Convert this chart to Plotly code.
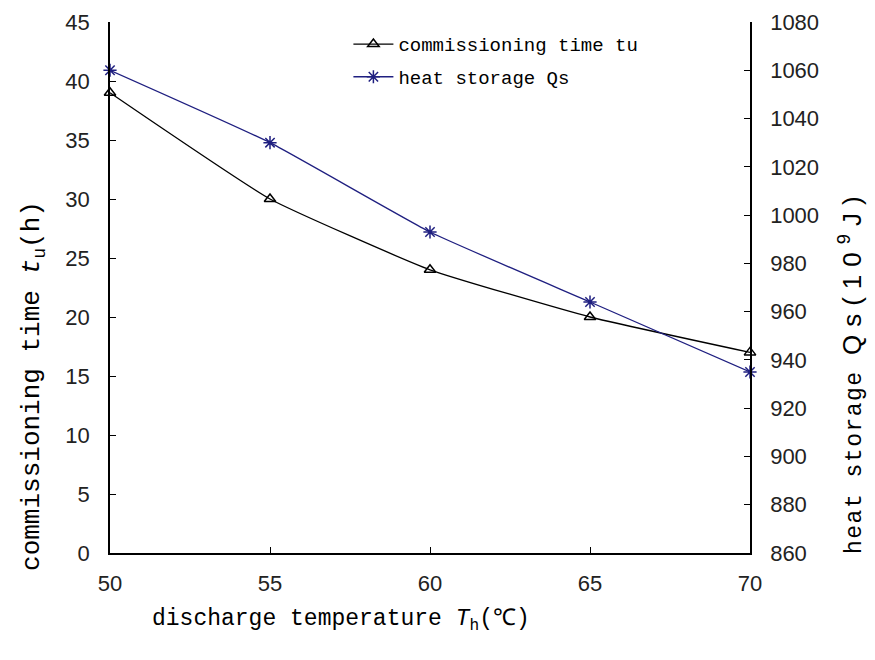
import plotly.graph_objects as go

temps = [50, 55, 60, 65, 70]
commissioning_time = [39, 30, 24, 20, 17]
heat_storage = [1060, 1030, 993, 964, 935]
left_ticks = [0, 5, 10, 15, 20, 25, 30, 35, 40, 45]
right_ticks = [860, 880, 900, 920, 940, 960, 980, 1000, 1020, 1040, 1060, 1080]
x_ticks = [50, 55, 60, 65, 70]

MONO = "Liberation Mono, DejaVu Sans Mono, monospace"
SANS = "Liberation Sans, Arial, sans-serif"
NAVY = "#1f1f80"

fig = go.Figure()
fig.add_trace(go.Scatter(
    x=temps, y=commissioning_time, name="commissioning time tu",
    mode="lines+markers", line=dict(color="black", width=1.3, shape="spline", smoothing=0.4),
    marker=dict(symbol="triangle-up-open", size=10, color="black", line=dict(width=1.5)),
    cliponaxis=False, legendgroup="a"))
fig.add_trace(go.Scatter(
    x=temps, y=heat_storage, name="heat storage Qs", yaxis="y2",
    mode="lines+markers", line=dict(color=NAVY, width=1.3, shape="spline", smoothing=0.4),
    marker=dict(symbol="asterisk-open", size=11, color=NAVY, line=dict(width=1.5, color=NAVY)),
    cliponaxis=False, legendgroup="b"))

axis_common = dict(showline=True, linecolor="black", linewidth=1.5, ticks="inside",
                   ticklen=6, tickwidth=1.2, tickcolor="black", showgrid=False, zeroline=False,
                   automargin=False,
                   tickfont=dict(family=SANS, size=22, color="#222"))

fig.update_layout(
    width=867, height=652,
    margin=dict(l=102, r=125, t=14, b=107, autoexpand=False),
    paper_bgcolor="white", plot_bgcolor="white",
    xaxis=dict(range=[50, 70], tickvals=x_ticks, ticklabelstandoff=10, **axis_common),
    yaxis=dict(range=[0, 45], tickvals=left_ticks, ticklabelstandoff=14, **axis_common),
    yaxis2=dict(range=[860, 1080], tickvals=right_ticks, overlaying="y", side="right",
                ticklabelstandoff=14, **axis_common),
    legend=dict(x=0.3725, y=0.994, xanchor="left", yanchor="top", bgcolor="rgba(0,0,0,0)",
                font=dict(family=MONO, size=19, color="black"), tracegroupgap=5,
                itemwidth=40),
    showlegend=True,
    annotations=[
        dict(text="commissioning time <i>t</i><sub>u</sub>(h)", xref="paper", yref="paper",
             x=-0.12, y=0.315, xanchor="center", yanchor="middle", textangle=-90, showarrow=False,
             font=dict(family=MONO, size=26, color="black")),
        dict(text="<span style='letter-spacing:1.5px'>heat storage </span><span style='font-family:Arial;font-size:26px;letter-spacing:8px'>Qs(10<sup>9</sup>J)</span>",
             xref="paper", yref="paper",
             x=1.158, y=0.343, xanchor="center", yanchor="middle", textangle=-90, showarrow=False,
             font=dict(family=MONO, size=23, color="black")),
        dict(text="discharge temperature <i>T</i><sub>h</sub>(℃)", xref="paper", yref="paper",
             x=0.361, y=-0.128, xanchor="center", yanchor="middle", showarrow=False,
             font=dict(family=MONO, size=23, color="black")),
    ],
)

fig.write_html("out.html")
